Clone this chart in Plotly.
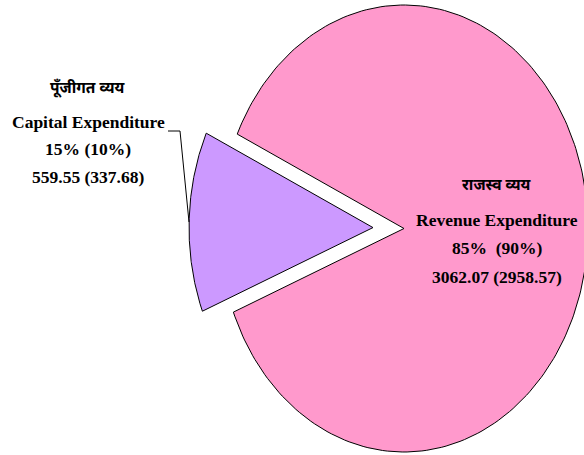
import math
import plotly.graph_objects as go

# ---- data ----
categories_en = ["Revenue Expenditure", "Capital Expenditure"]
categories_hi = ["राजस्व व्यय", "पूँजीगत व्यय"]
values_current = [3062.07, 559.55]
values_previous = [2958.57, 337.68]
colors = ["#FF99CC", "#CC99FF"]

# ---- geometry (pixel space) ----
W, H = 584, 455
cx, cy = 404.0, 228.5
rx, ry = 184.0, 223.5
explode_px = [0.0, 31.0]
capital_mid_angle = 178.3  # degrees (math convention, y up)

total = sum(values_current)
total_prev = sum(values_previous)
spans = [360.0 * v / total for v in values_current]

cap_start = capital_mid_angle - spans[1] / 2
cap_end = capital_mid_angle + spans[1] / 2
angle_ranges = [(cap_end, cap_end + spans[0]), (cap_start, cap_end)]


def ellipse_r(theta):
    c, s = math.cos(theta), math.sin(theta)
    return 1.0 / math.sqrt((c / rx) ** 2 + (s / ry) ** 2)


fig = go.Figure()
for i in range(len(values_current)):
    a0, a1 = angle_ranges[i]
    mid = math.radians((a0 + a1) / 2)
    ox = explode_px[i] * math.cos(mid)
    oy = -explode_px[i] * math.sin(mid)
    xs, ys = [cx + ox], [cy + oy]
    n = 240
    for k in range(n + 1):
        t = math.radians(a0 + (a1 - a0) * k / n)
        r = ellipse_r(t)
        xs.append(cx + ox + r * math.cos(t))
        ys.append(cy + oy - r * math.sin(t))
    xs.append(cx + ox)
    ys.append(cy + oy)
    fig.add_trace(go.Scatter(
        x=xs, y=ys, mode="lines", fill="toself",
        fillcolor=colors[i], line=dict(color="black", width=1),
        hoverinfo="skip", showlegend=False,
    ))

pct_cur = [round(100 * v / total) for v in values_current]
pct_prev = [round(100 * v / total_prev) for v in values_previous]

serif = "Liberation Serif, Times New Roman, serif"
hindi = "Noto Sans Devanagari, Lohit Devanagari, FreeSerif, Mangal, sans-serif"

# label positions (pixel space)
label_pos = [(497, [186, 220, 248, 277]), (88, [88, 122, 149, 177])]
sep = ["&nbsp; ", " "]
for i in range(len(values_current)):
    x, ys_ = label_pos[i]
    texts = [
        (categories_hi[i], hindi, 15.5, True),
        (categories_en[i], serif, 17.5, True),
        (f"{pct_cur[i]}%{sep[i]}({pct_prev[i]}%)", serif, 17.5, True),
        (f"{values_current[i]:.2f} ({values_previous[i]:.2f})", serif, 17.5, True),
    ]
    for (t, f, s, b), y in zip(texts, ys_):
        txt = f"<b>{t}</b>" if b else t
        fig.add_annotation(x=x, y=y, xref="x", yref="y", text=txt,
                           showarrow=False, xanchor="center", yanchor="middle",
                           font=dict(family=f, size=s, color="black"))

# leader line from capital label to slice
fig.add_shape(type="path", path="M 168 131 L 180 131 L 189 222",
              xref="x", yref="y", line=dict(color="black", width=1))

fig.update_layout(
    width=W, height=H,
    margin=dict(l=0, r=0, t=0, b=0),
    paper_bgcolor="white", plot_bgcolor="white",
    xaxis=dict(range=[0, W], visible=False, fixedrange=True),
    yaxis=dict(range=[H, 0], visible=False, fixedrange=True),
)

fig.write_html("out.html",
               config={"displayModeBar": False, "staticPlot": True},
               post_script="document.body.style.margin='0';document.body.style.overflow='hidden';")
